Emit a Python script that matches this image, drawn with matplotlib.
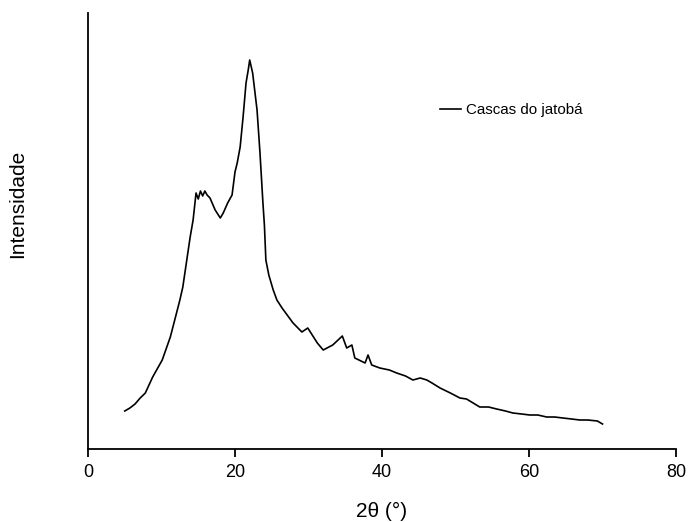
import matplotlib
matplotlib.use("Agg")
import matplotlib.pyplot as plt

plt.rcParams['font.family'] = ['Liberation Sans', 'DejaVu Sans']

two_theta = [5.0, 5.7, 6.4, 7.1, 7.8, 8.8, 10.1, 11.2, 11.8, 12.5, 12.9, 13.9, 14.3, 14.7,
             15.0, 15.3, 15.6, 15.9, 16.2, 16.6, 17.3, 18.0, 18.4, 19.0, 19.6, 20.0, 20.3,
             20.7, 21.1, 21.5, 21.8, 22.0, 22.4, 23.0, 23.4, 23.8, 24.0, 24.2, 24.6, 25.2,
             25.7, 26.4, 27.1, 27.9, 29.1, 29.9, 31.2, 32.0, 33.3, 34.6, 35.2, 35.9, 36.3,
             37.7, 38.1, 38.6, 39.7, 41.0, 42.0, 43.2, 44.2, 45.2, 46.1, 46.8, 47.9, 49.3,
             50.6, 51.5, 52.4, 53.3, 54.5, 55.6, 56.8, 57.8, 59.0, 60.1, 61.2, 62.4, 63.5,
             64.6, 65.8, 66.9, 68.0, 69.3, 70.0]
intensity = [38, 41, 45, 51, 56, 72, 89, 112, 129, 149, 162, 212, 229, 256,
             250, 258, 253, 258, 254, 251, 239, 231, 236, 246, 254, 277, 286,
             302, 332, 366, 379, 389, 376, 339, 296, 246, 224, 189, 174, 159,
             149, 141, 134, 126, 117, 121, 106, 99, 104, 113, 101, 104, 91,
             86, 94, 84, 81, 79, 76, 73, 69, 71, 69, 66, 61, 56,
             51, 50, 46, 42, 42, 40, 38, 36, 35, 34, 34, 32, 32,
             31, 30, 29, 29, 28, 25]

fig = plt.figure(figsize=(6.89, 5.22), dpi=100)
ax = fig.add_axes([88/689, 1-449/522, (676-88)/689, (449-13)/522])
ax.plot(two_theta, intensity, color='black', lw=1.2, label='Cascas do jatobá')
ax.set_xlim(0, 80)
ax.set_ylim(0, 436)
ax.set_xticks([0, 20, 40, 60, 80])
ax.set_yticks([])
for s in ['top', 'right']:
    ax.spines[s].set_visible(False)
for s in ['left', 'bottom']:
    ax.spines[s].set_linewidth(1.3)
ax.tick_params(axis='x', direction='out', length=6, width=1.3, labelsize=13, pad=5)
ax.set_xlabel('2θ (°)', fontsize=15, labelpad=15)
ax.set_ylabel('Intensidade', fontsize=15)
ax.yaxis.set_label_coords(-0.104, 0.562)
ax.legend(loc='center left', bbox_to_anchor=((440-88)/588, (449-110)/436), frameon=False,
          fontsize=10.9, handlelength=1.4, handletextpad=0.35, borderpad=0, borderaxespad=0)
fig.savefig('out.png', dpi=100)
